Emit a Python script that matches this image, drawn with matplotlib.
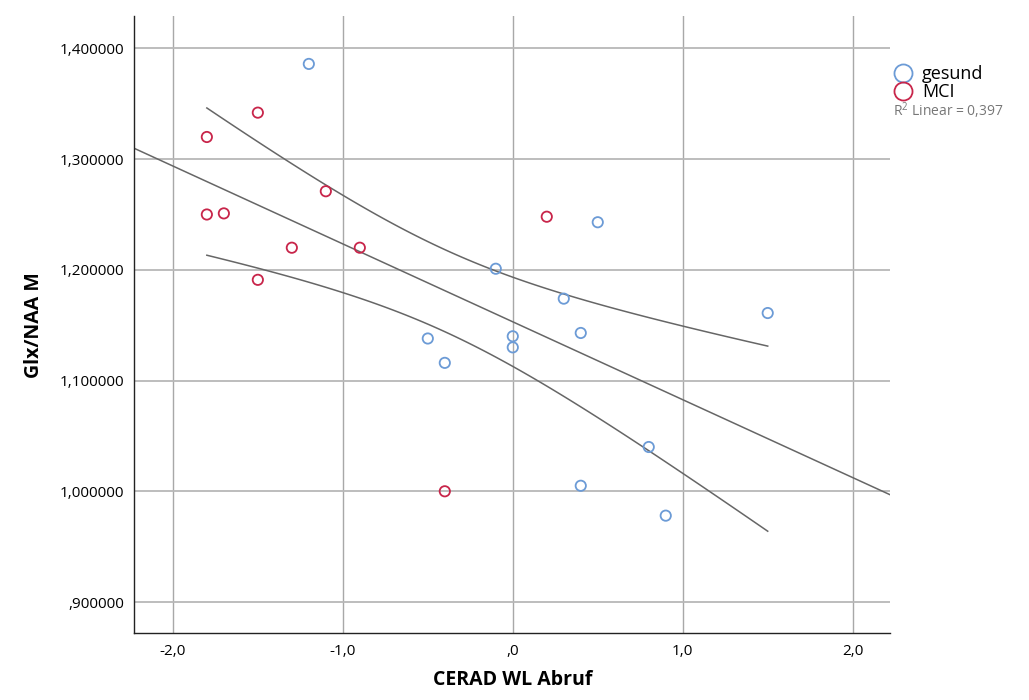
import numpy as np
import matplotlib
matplotlib.use("Agg")
import matplotlib.pyplot as plt
from matplotlib.lines import Line2D

plt.rcParams['font.family'] = ['Open Sans', 'DejaVu Sans']

# data
gesund_x = [-1.2, 0.5, -0.1, 0.3, 1.5, 0.4, 0.0, 0.0, -0.5, -0.4, 0.8, 0.4, 0.9]
gesund_y = [1.386, 1.243, 1.201, 1.174, 1.161, 1.143, 1.140, 1.130, 1.138, 1.116, 1.040, 1.005, 0.978]
mci_x = [-1.8, -1.5, -1.8, -1.7, -1.1, -1.3, -0.9, -1.5, 0.2, -0.4]
mci_y = [1.320, 1.342, 1.250, 1.251, 1.271, 1.220, 1.220, 1.191, 1.248, 1.000]
r2_label = 0.397

x_ticks = [-2.0, -1.0, 0.0, 1.0, 2.0]
y_ticks = [0.9, 1.0, 1.1, 1.2, 1.3, 1.4]

def fmt_num(v, dec):
    s = ('%.' + str(dec) + 'f') % v
    s = s.replace('.', ',')
    if s.startswith('0,'):
        s = s[1:]
    elif s.startswith('-0,'):
        s = '-' + s[2:]
    return s

x_all = np.array(gesund_x + mci_x)
y_all = np.array(gesund_y + mci_y)
n = len(x_all)
b, a = np.polyfit(x_all, y_all, 1)
resid = y_all - (a + b * x_all)
s = np.sqrt(np.sum(resid ** 2) / (n - 2))
sxx = np.sum((x_all - x_all.mean()) ** 2)
t_val = 2.080  # t(0.975, df=21)

fig = plt.figure(figsize=(10.29, 7.0), dpi=100)
ax = fig.add_axes([0.130, 0.0957, 0.735, 0.881])

xlim = (-2.23, 2.22)
ax.set_xlim(xlim)
ax.set_ylim(0.872, 1.429)

for xv in x_ticks:
    ax.axvline(xv, color='#a8a8a8', lw=1.0, zorder=0)
for yv in y_ticks:
    ax.axhline(yv, color='#b8b8b8', lw=1.3, zorder=0)

xl = np.linspace(xlim[0], xlim[1], 100)
ax.plot(xl, a + b * xl, color='#666666', lw=1.1, zorder=1)

xb = np.linspace(x_all.min(), x_all.max(), 100)
se = s * np.sqrt(1.0 / n + (xb - x_all.mean()) ** 2 / sxx)
ax.plot(xb, a + b * xb + t_val * se, color='#666666', lw=1.1, zorder=1)
ax.plot(xb, a + b * xb - t_val * se, color='#666666', lw=1.1, zorder=1)

ax.scatter(gesund_x, gesund_y, s=55, facecolors='none', edgecolors='#6c9bd6', linewidths=1.3, zorder=3)
ax.scatter(mci_x, mci_y, s=55, facecolors='none', edgecolors='#c8254a', linewidths=1.3, zorder=3)

ax.set_xticks(x_ticks)
ax.set_xticklabels([fmt_num(v, 1) for v in x_ticks])
ax.set_yticks(y_ticks)
ax.set_yticklabels([fmt_num(v, 6) for v in y_ticks])
ax.tick_params(axis='x', length=0, labelsize=11, pad=8)
ax.tick_params(axis='y', length=0, labelsize=11, pad=7)

for side in ['top', 'right']:
    ax.spines[side].set_visible(False)
for side in ['left', 'bottom']:
    ax.spines[side].set_color('#222222')
    ax.spines[side].set_linewidth(1.0)

fig.text(0.130 + 0.735 * (0 - xlim[0]) / (xlim[1] - xlim[0]), 0.028, 'CERAD WL Abruf',
         fontsize=14, fontweight='bold', ha='center', va='center')
ax.set_ylabel('Glx/NAA M', fontsize=14, fontweight='bold', labelpad=11)

handles = [Line2D([], [], marker='o', ls='none', ms=13, mfc='none', mec='#6c9bd6', mew=1.3),
           Line2D([], [], marker='o', ls='none', ms=13, mfc='none', mec='#c8254a', mew=1.3)]
fig.legend(handles, ['gesund', 'MCI'], loc='upper left', bbox_to_anchor=(0.848, 0.925),
           frameon=False, fontsize=13, handletextpad=0.05, labelspacing=0.0, borderpad=0.2)
fig.text(0.868, 0.834, '$\\mathregular{R^2}$ Linear = ' + ('%.3f' % r2_label).replace('.', ','),
         fontsize=10, color='#777777')

fig.savefig('out.png', dpi=100)
